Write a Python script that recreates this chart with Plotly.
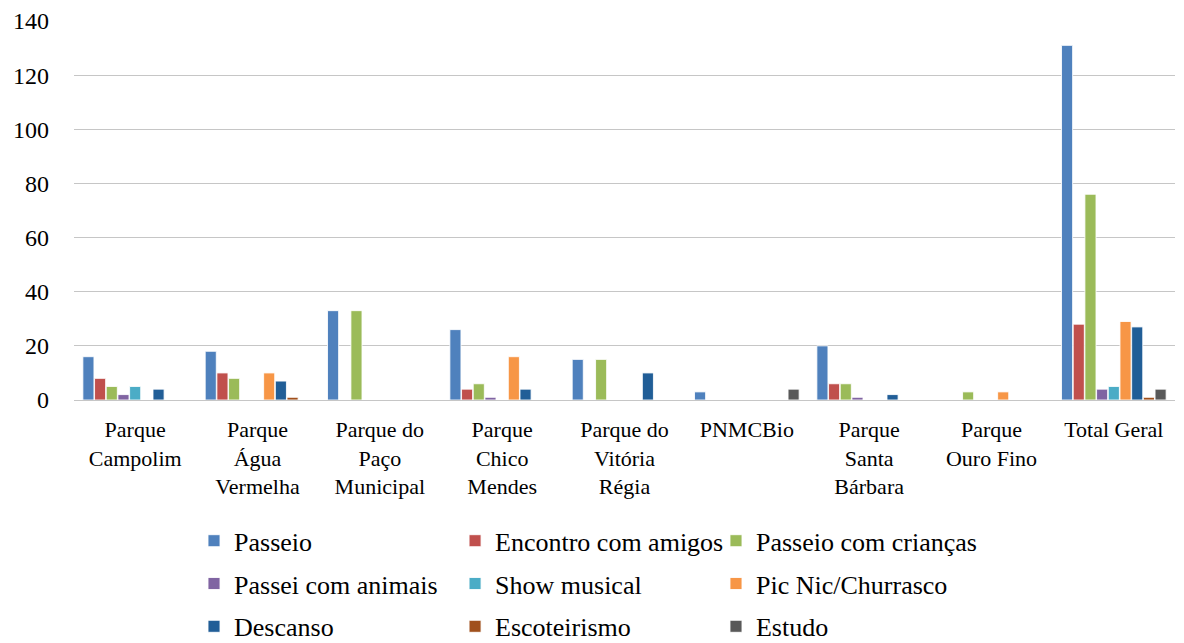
import plotly.graph_objects as go

categories = ["Parque<br>Campolim", "Parque<br>Água<br>Vermelha", "Parque do<br>Paço<br>Municipal",
              "Parque<br>Chico<br>Mendes", "Parque do<br>Vitória<br>Régia", "PNMCBio",
              "Parque<br>Santa<br>Bárbara", "Parque<br>Ouro Fino", "Total Geral"]

series_names = ["Passeio", "Encontro com amigos", "Passeio com crianças",
                "Passei com animais", "Show musical", "Pic Nic/Churrasco",
                "Descanso", "Escoteirismo", "Estudo"]

passeio = [16, 18, 33, 26, 15, 3, 20, 0, 131]
encontro = [8, 10, 0, 4, 0, 0, 6, 0, 28]
criancas = [5, 8, 33, 6, 15, 0, 6, 3, 76]
animais = [2, 0, 0, 1, 0, 0, 1, 0, 4]
show = [5, 0, 0, 0, 0, 0, 0, 0, 5]
picnic = [0, 10, 0, 16, 0, 0, 0, 3, 29]
descanso = [4, 7, 0, 4, 10, 0, 2, 0, 27]
escoteirismo = [0, 1, 0, 0, 0, 0, 0, 0, 1]
estudo = [0, 0, 0, 0, 0, 4, 0, 0, 4]

values = [passeio, encontro, criancas, animais, show, picnic, descanso, escoteirismo, estudo]
colors = ["#4F81BD", "#C0504D", "#9BBB59", "#8064A2", "#4BACC6", "#F79646",
          "#215E97", "#A0501C", "#595959"]

# legend column for each series (3 columns, filled row by row)
legend_ids = ["legend", "legend2", "legend3"] * 3

fig = go.Figure()
for i, (name, vals, col) in enumerate(zip(series_names, values, colors)):
    fig.add_trace(go.Bar(x=categories, y=vals, name=name,
                         legend=legend_ids[i], legendgroup=f"g{i}",
                         marker=dict(color=col, line=dict(color="rgba(255,255,255,0.85)", width=1))))

font_family = "Liberation Serif"
legend_common = dict(orientation="v", y=-0.3095, xanchor="left", yanchor="top",
                     font=dict(size=26, family=font_family, color="black"),
                     tracegroupgap=6, itemwidth=30, bgcolor="rgba(0,0,0,0)")

fig.update_layout(
    barmode="group",
    bargap=0.14,
    bargroupgap=0.05,
    width=1184, height=643,
    margin=dict(l=66, r=17, t=13, b=251, autoexpand=False),
    paper_bgcolor="white", plot_bgcolor="white",
    font=dict(family=font_family, size=20, color="black"),
    xaxis=dict(tickfont=dict(size=22, family=font_family), showline=False, ticks="",
               showgrid=False, automargin=False, ticklabelstandoff=14),
    yaxis=dict(range=[0, 140], dtick=20, showgrid=True, gridcolor="#C6C6C6", gridwidth=1,
               zeroline=True, zerolinecolor="#C6C6C6", zerolinewidth=1, automargin=False,
               tickfont=dict(size=24, family=font_family), ticks="", ticklabelstandoff=24),
    legend=dict(x=0.109, **legend_common),
    legend2=dict(x=0.3461, **legend_common),
    legend3=dict(x=0.5831, **legend_common),
)

fig.write_html("out.html")
